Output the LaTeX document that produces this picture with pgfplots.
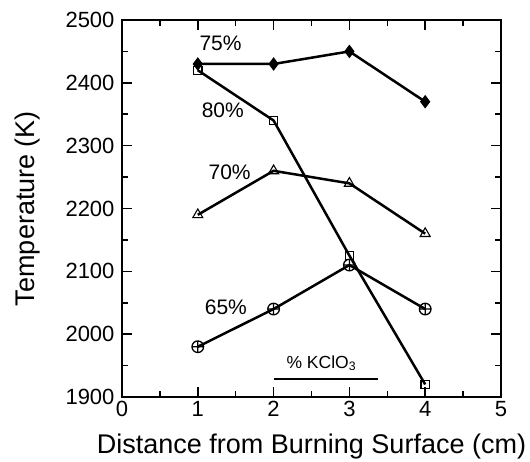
\documentclass[border=0pt]{standalone}
\usepackage{pgfplots}
\pgfplotsset{compat=1.18}
\usepackage{fontspec}
\setmainfont{Liberation Sans}
\usetikzlibrary{calc}
\begin{document}
\begin{tikzpicture}
\begin{axis}[
  at={(0,0)}, anchor=south west,
  scale only axis, width=379pt, height=377pt,
  xmin=0, xmax=5, ymin=1900, ymax=2500,
  xtick={0,1,2,3,4,5}, ytick={1900,2000,2100,2200,2300,2400,2500},
  minor x tick num=1, minor y tick num=1,
  tick align=inside, tick pos=both,
  xticklabel pos=lower, yticklabel pos=left,
  major tick length=10pt, minor tick length=6pt,
  every tick/.style={line width=1.6pt, black},
  axis line style={line width=2.2pt},
  /pgf/number format/assume math mode=true,
  /pgf/number format/1000 sep={},
  tick label style={font=\fontsize{22}{24}\selectfont},
  xticklabel style={yshift=-1pt},
  yticklabel style={xshift=-4pt},
  xlabel={Distance from Burning Surface (cm)},
  ylabel={Temperature (K)},
  label style={font=\fontsize{27}{29}\selectfont},
  xlabel style={yshift=-10pt},
  ylabel style={yshift=19pt},
  every axis plot/.append style={line width=2.5pt, black},
  clip=false,
]
\coordinate (bl) at (rel axis cs:0,0);
% 75%
\addplot[mark=diamond*, mark size=6pt, mark options={solid, fill=black, line width=1pt}]
  coordinates {(1,2430) (2,2430) (3,2450) (4,2370)};
% 80%
\addplot[mark=square, mark size=4.2pt, mark options={solid, fill=white, line width=1.1pt}]
  coordinates {(1,2420) (2,2340) (3,2125) (4,1920)};
% 70%
\addplot[mark=triangle, mark size=5.8pt, mark options={solid, fill=white, line width=1.1pt}]
  coordinates {(1,2190) (2,2260) (3,2240) (4,2160)};
% 65%
\addplot[mark=oplus, mark size=5.8pt, mark options={solid, fill=white, line width=1.3pt}]
  coordinates {(1,1980) (2,2040) (3,2110) (4,2040)};
% underline of legend title
\addplot[line width=2pt, mark=none] coordinates {(2.01,1929) (3.38,1929)};
\node[font=\fontsize{21}{22}\selectfont] at (axis cs:1.30,2463) {75\%};
\node[font=\fontsize{21}{22}\selectfont] at (axis cs:1.33,2357) {80\%};
\node[font=\fontsize{21}{22}\selectfont] at (axis cs:1.42,2258) {70\%};
\node[font=\fontsize{21}{22}\selectfont] at (axis cs:1.37,2043) {65\%};
\node[font=\fontsize{17.5}{18}\selectfont] at (axis cs:2.63,1954) {\% KClO\textsubscript{3}};
\end{axis}
\pgfresetboundingbox
\path ($(bl)+(-122pt,-64pt)$) rectangle ($(bl)+(408pt,397pt)$);
\end{tikzpicture}
\end{document}
